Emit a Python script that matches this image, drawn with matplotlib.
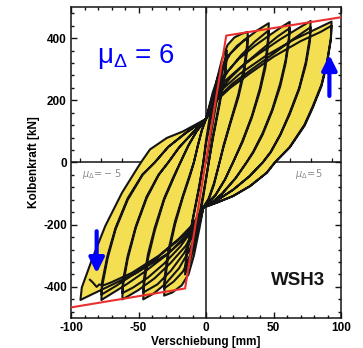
import matplotlib
matplotlib.use('Agg')
import matplotlib.pyplot as plt
from matplotlib.ticker import MultipleLocator

# ---------------- data ----------------
# bilinear idealisation (red)
envelope_x = [-100, -15.5, 15, 100]
envelope_y = [-466, -405, 408, 467]

# yield displacement used for ductility marks on the zero line
delta_y = 15.5
mu_marks = [-6, -5, -4, -3, -2, -1, 1, 2, 3, 4, 5, 6]

# hysteresis cycles (displacement mm, force kN), in test order
loop_1a = [(0, 0), (5, 125), (10, 250), (15.5, 360), (14.5, 305), (10, 195), (5, 80), (2, 0),
           (-2, -110), (-7, -235), (-12, -320), (-15.5, -360), (-14.5, -305), (-10, -190),
           (-5, -80), (-2, 0), (0, 60)]
loop_1b = [(0, 60), (5, 170), (10, 270), (15.5, 345), (14.5, 295), (10, 185), (5, 75), (2, 0),
           (-2, -100), (-7, -215), (-12, -300), (-15.5, -345), (-14.5, -295), (-10, -185),
           (-5, -75), (-2, 0), (0, 70)]
loop_2a = [(0, 70), (4, 180), (8, 265), (12, 335), (16, 378), (21, 402), (26, 413), (31, 420),
           (30.5, 380), (28, 300), (24, 220), (18, 130), (13, 55), (10, 0), (6, -65), (2, -115),
           (-2, -145), (-5, -215), (-9, -300), (-13, -360), (-18, -395), (-25, -418), (-31, -428),
           (-30.5, -385), (-28, -300), (-23, -200), (-17, -110), (-12, -45), (-9, 0), (-6, 55),
           (-3, 105), (0, 140)]
loop_2b = [(0, 140), (5, 215), (10, 285), (16, 340), (23, 375), (31, 402), (30.5, 360), (28, 285),
           (24, 210), (18, 125), (13, 50), (10, 0), (6, -70), (2, -120), (-2, -145), (-6, -220),
           (-11, -295), (-17, -350), (-24, -383), (-31, -405), (-30.5, -365), (-28, -285),
           (-23, -190), (-17, -105), (-12, -40), (-9, 0), (-6, 55), (-3, 105), (0, 140)]
loop_3a = [(0, 140), (5, 225), (10, 290), (18, 350), (28, 392), (38, 425), (46.5, 448), (46, 400),
           (44, 320), (40, 240), (34, 150), (27, 70), (20, 0), (14, -55), (7, -105), (-2, -145),
           (-6, -210), (-12, -280), (-20, -340), (-30, -390), (-39, -422), (-46.5, -440),
           (-46, -395), (-43, -310), (-38, -220), (-31, -120), (-24, -50), (-19, 0), (-13, 55),
           (-7, 100), (0, 140)]
loop_3b = [(0, 140), (8, 230), (16, 292), (26, 345), (36, 388), (46.5, 425), (46, 380), (44, 305),
           (40, 230), (34, 145), (27, 65), (20, 0), (14, -55), (7, -105), (-2, -145), (-8, -220),
           (-16, -290), (-26, -348), (-36, -392), (-46.5, -418), (-46, -375), (-43, -295),
           (-38, -210), (-31, -115), (-24, -45), (-19, 0), (-13, 55), (-7, 100), (0, 140)]
loop_4a = [(0, 140), (6, 220), (13, 278), (24, 332), (36, 375), (48, 412), (56, 436), (62, 452),
           (61.5, 405), (59, 330), (55, 255), (49, 170), (42, 95), (35, 35), (30, 0), (22, -50),
           (12, -100), (4, -130), (-2, -145), (-7, -205), (-15, -268), (-26, -322), (-38, -372),
           (-50, -410), (-57, -428), (-62, -440), (-61.5, -395), (-58, -310), (-52, -210),
           (-44, -115), (-35, -40), (-28, 0), (-20, 48), (-10, 95), (0, 140)]
loop_4b = [(0, 140), (8, 218), (18, 272), (30, 322), (42, 366), (53, 405), (62, 432), (61.5, 390),
           (59, 320), (55, 245), (49, 165), (42, 90), (35, 32), (30, 0), (22, -50), (12, -100),
           (4, -130), (-2, -145), (-9, -210), (-19, -270), (-31, -325), (-43, -370), (-54, -402),
           (-62, -420), (-61.5, -380), (-58, -300), (-52, -205), (-44, -110), (-35, -38), (-28, 0),
           (-20, 48), (-10, 95), (0, 140)]
loop_5a = [(0, 140), (6, 212), (14, 262), (26, 308), (40, 352), (55, 396), (67, 428), (77.5, 455),
           (77, 405), (74, 325), (69, 240), (62, 160), (55, 90), (48, 35), (42, 0), (32, -45),
           (20, -88), (8, -122), (-2, -145), (-8, -200), (-17, -250), (-30, -300), (-45, -350),
           (-60, -395), (-70, -422), (-77.5, -442), (-77, -400), (-73, -310), (-67, -215),
           (-58, -120), (-47, -40), (-38, 0), (-28, 50), (-15, 95), (0, 140)]
loop_5b = [(0, 140), (9, 210), (20, 255), (34, 300), (50, 350), (64, 395), (77.5, 435), (77, 390),
           (74, 315), (69, 235), (62, 155), (55, 88), (48, 33), (42, 0), (32, -45), (20, -88),
           (8, -122), (-2, -145), (-10, -205), (-22, -255), (-36, -305), (-52, -355), (-66, -395),
           (-77.5, -425), (-77, -385), (-73, -300), (-67, -210), (-58, -115), (-47, -38), (-38, 0),
           (-28, 50), (-15, 95), (0, 140)]
loop_6a = [(0, 140), (5, 190), (12, 235), (25, 285), (45, 345), (65, 395), (82, 430), (93, 453),
           (92.5, 400), (89.5, 320), (85.5, 250), (79, 180), (73, 122), (62, 50), (51, 0),
           (45, -33), (32.6, -76), (20, -108), (8, -129), (-2, -145), (-8, -195), (-15, -235),
           (-27, -289), (-51, -354), (-71, -396), (-85, -425), (-93, -442), (-92, -402),
           (-84.4, -311), (-74.6, -204), (-62.2, -97), (-50, -12), (-47.6, 4), (-41.5, 42),
           (-29, 79), (-17, 100), (0, 140)]
loop_6b = [(0, 140), (8, 200), (18, 240), (32, 285), (50, 340), (70, 390), (85, 420), (93, 440),
           (92.5, 395), (89.5, 315), (85.5, 245), (79, 175), (73, 118), (62, 48), (51, 0),
           (45, -33), (32.6, -76), (20, -108), (8, -129), (-2, -145), (-10, -200), (-20, -245),
           (-35, -300), (-55, -355), (-70, -385), (-76, -395), (-79, -392), (-81, -400),
           (-84, -385), (-86, -377)]

loops = [loop_1a, loop_1b, loop_2a, loop_2b, loop_3a, loop_3b,
         loop_4a, loop_4b, loop_5a, loop_5b, loop_6a, loop_6b]

x_ticks = [-100, -50, 0, 50, 100]
y_ticks = [-400, -200, 0, 200, 400]

# ---------------- drawing ----------------
plt.rcParams['font.family'] = ['Liberation Sans', 'DejaVu Sans']

fig = plt.figure(figsize=(3.63, 3.48), dpi=100)
ax = fig.add_axes([0.1956, 0.0862, 0.7438, 0.8937])

yellow = '#F4DF52'
black = '#141414'

ax.axhline(0, color=black, lw=1.1, zorder=1)
ax.axvline(0, color=black, lw=1.1, zorder=1)

for lp in loops:
    xs = [p[0] for p in lp]
    ys = [p[1] for p in lp]
    ax.fill(xs, ys, color=yellow, lw=0, zorder=2)

hx, hy = [], []
for lp in loops:
    start = 1 if hx else 0
    hx += [p[0] for p in lp[start:]]
    hy += [p[1] for p in lp[start:]]
ax.plot(hx, hy, color=black, lw=1.5, solid_joinstyle='round', zorder=3)

ax.plot(envelope_x, envelope_y, color='#E8312F', lw=1.5, zorder=4)

# ductility marks on the zero line
ax.plot([m * delta_y for m in mu_marks], [0] * len(mu_marks), linestyle='none',
        marker=2, markersize=3, color=black, mew=0.9, zorder=1)

ax.text(-77.4, -38, r'$\mu_\Delta\!=\!-5$', color='#8a8a8a', fontsize=7,
        ha='center', va='center', zorder=5)
ax.text(76.3, -38, r'$\mu_\Delta\!=\!5$', color='#8a8a8a', fontsize=7,
        ha='center', va='center', zorder=5)

ax.text(-81, 340, r'$\mathregular{\mu_{\Delta}}$ = 6', color='#0000FF', fontsize=20,
        ha='left', va='center', zorder=5)
ax.text(68, -380, 'WSH3', color=black, fontsize=13.5, fontweight='bold',
        ha='center', va='center', zorder=5)

# blue arrows
ax.annotate('', xy=(91.4, 355), xytext=(91.4, 205),
            arrowprops=dict(arrowstyle='-|>,head_length=0.9,head_width=0.45',
                            color='#0000FF', lw=3), zorder=5)
ax.annotate('', xy=(-81, -365), xytext=(-81, -212),
            arrowprops=dict(arrowstyle='-|>,head_length=0.9,head_width=0.45',
                            color='#0000FF', lw=3), zorder=5)

ax.set_xlim(-100, 100)
ax.set_ylim(-500, 500)
ax.set_xticks(x_ticks)
ax.set_yticks(y_ticks)
ax.set_xticklabels([str(v) for v in x_ticks])
ax.set_yticklabels([str(v) for v in y_ticks])
ax.xaxis.set_minor_locator(MultipleLocator(10))
ax.yaxis.set_minor_locator(MultipleLocator(40))
ax.tick_params(which='both', direction='in', top=True, right=True, width=1.0, color=black)
ax.tick_params(which='major', length=4, labelsize=8.5, pad=3)
ax.tick_params(which='minor', length=2.5)
for lab in ax.get_xticklabels() + ax.get_yticklabels():
    lab.set_fontweight('bold')
for s in ax.spines.values():
    s.set_linewidth(1.1)
    s.set_color(black)

ax.set_xlabel('Verschiebung [mm]', fontsize=8.5, fontweight='bold', labelpad=1)
ax.set_ylabel('Kolbenkraft [kN]', fontsize=8.5, fontweight='bold', labelpad=2)

fig.savefig('out.png', dpi=100)
